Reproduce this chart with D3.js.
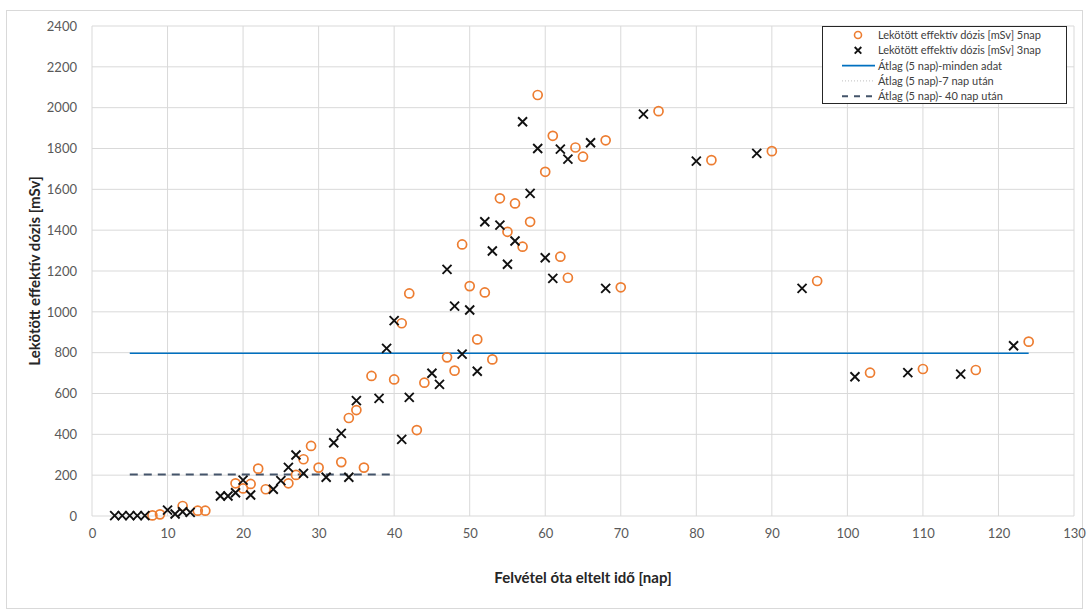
<!DOCTYPE html>
<html>
<head>
<meta charset="utf-8">
<script src="https://cdn.jsdelivr.net/npm/d3@7"></script>
<style>
  body { margin: 0; background: #fff; }
  svg { font-family: Lato, "Liberation Sans", sans-serif; }
</style>
</head>
<body>
<div id="chart-area"></div>
<script>
// 3 napos mérések (x: nap, y: mSv)
var days3 = [3, 4, 5, 6, 7, 10, 11, 12, 13, 17, 18, 19, 20, 21, 24, 25, 26, 27, 28, 31, 32, 33, 34, 35, 38, 39, 40, 41, 42, 45, 46, 47, 48, 49, 50, 51, 52, 53, 54, 55, 56, 57, 58, 59, 60, 61, 62, 63, 66, 68, 73, 80, 88, 94, 101, 108, 115, 122];
var dose3 = [2, 2, 2, 2, 2, 29, 10, 21, 18, 98, 98, 114, 176, 103, 131, 173, 238, 299, 209, 190, 359, 405, 190, 565, 576, 821, 957, 375, 581, 699, 645, 1208, 1028, 793, 1009, 709, 1441, 1298, 1425, 1233, 1347, 1931, 1580, 1800, 1265, 1164, 1797, 1748, 1828, 1115, 1968, 1738, 1776, 1115, 682, 702, 695, 834];

// 5 napos mérések
var days5 = [8, 9, 12, 14, 15, 19, 20, 21, 22, 23, 26, 27, 28, 29, 30, 33, 34, 35, 36, 37, 40, 41, 42, 43, 44, 47, 48, 49, 50, 51, 52, 53, 54, 55, 56, 57, 58, 59, 60, 61, 62, 63, 64, 65, 68, 70, 75, 82, 90, 96, 103, 110, 117, 124];
var dose5 = [3, 8, 49, 26, 26, 160, 135, 157, 232, 131, 160, 201, 278, 343, 237, 264, 480, 519, 237, 686, 669, 944, 1090, 421, 653, 777, 712, 1330, 1126, 865, 1095, 767, 1556, 1392, 1531, 1319, 1441, 2062, 1686, 1862, 1270, 1167, 1805, 1760, 1840, 1120, 1983, 1743, 1787, 1151, 702, 720, 715, 854];

// átlagvonalak
var avgAll = { from: 5, to: 124, value: 797 };
var avg40 = { from: 5, to: 40, value: 203 };

var xTicks = d3.range(0, 131, 10);
var yTicks = d3.range(0, 2401, 200);

var legendLabels = [
    "Lekötött effektív dózis [mSv] 5nap",
    "Lekötött effektív dózis [mSv] 3nap",
    "Átlag (5 nap)-minden adat",
    "Átlag (5 nap)-7 nap után",
    "Átlag (5 nap)- 40 nap után"
];

var W = 1087, H = 611;
var margin = { left: 92, right: 13, top: 26, bottom: 95 };

var svg = d3.select("#chart-area")
    .append("svg")
    .attr("width", W)
    .attr("height", H);

// keret
svg.append("rect")
    .attr("x", 6.5).attr("y", 10.5)
    .attr("width", 1076).attr("height", 598)
    .attr("fill", "none")
    .attr("stroke", "#d9d9d9");

var xScale = d3.scaleLinear()
    .domain([0, 130])
    .range([margin.left, W - margin.right]);

var yScale = d3.scaleLinear()
    .domain([0, 2400])
    .range([H - margin.bottom, margin.top]);

// rács
svg.append("g")
    .selectAll("line")
    .data(xTicks)
    .enter()
    .append("line")
    .attr("x1", function (d) { return xScale(d); })
    .attr("x2", function (d) { return xScale(d); })
    .attr("y1", yScale(0))
    .attr("y2", yScale(2400))
    .attr("stroke", "#d9d9d9")
    .attr("stroke-width", 1);

svg.append("g")
    .selectAll("line")
    .data(yTicks)
    .enter()
    .append("line")
    .attr("x1", xScale(0))
    .attr("x2", xScale(130))
    .attr("y1", function (d) { return yScale(d); })
    .attr("y2", function (d) { return yScale(d); })
    .attr("stroke", "#d9d9d9")
    .attr("stroke-width", 1);

var xAxis = d3.axisBottom(xScale).tickValues(xTicks).tickSize(0).tickPadding(13).tickFormat(d3.format("d"));
var yAxis = d3.axisLeft(yScale).tickValues(yTicks).tickSize(0).tickPadding(15).tickFormat(d3.format("d"));

svg.append("g")
    .attr("transform", "translate(0," + yScale(0) + ")")
    .call(xAxis)
    .call(function (g) { g.select(".domain").remove(); })
    .selectAll("text")
    .attr("font-size", "13px")
    .attr("fill", "#595959")
    .attr("font-family", "Lato, sans-serif");

svg.append("g")
    .attr("transform", "translate(" + xScale(0) + ",0)")
    .call(yAxis)
    .call(function (g) { g.select(".domain").remove(); })
    .selectAll("text")
    .attr("font-size", "13px")
    .attr("fill", "#595959")
    .attr("font-family", "Lato, sans-serif");

// átlagvonalak
svg.append("line")
    .attr("x1", xScale(avgAll.from)).attr("x2", xScale(avgAll.to))
    .attr("y1", yScale(avgAll.value)).attr("y2", yScale(avgAll.value))
    .attr("stroke", "#0070C0")
    .attr("stroke-width", 1.6);

svg.append("line")
    .attr("x1", xScale(avg40.from)).attr("x2", xScale(avg40.to))
    .attr("y1", yScale(avg40.value)).attr("y2", yScale(avg40.value))
    .attr("stroke", "#44546A")
    .attr("stroke-width", 2)
    .attr("stroke-dasharray", "8,6");

// pontok
var pts5 = days5.map(function (d, i) { return { x: d, y: dose5[i] }; });
var pts3 = days3.map(function (d, i) { return { x: d, y: dose3[i] }; });

svg.append("g")
    .selectAll("circle")
    .data(pts5)
    .enter()
    .append("circle")
    .attr("cx", function (d) { return xScale(d.x); })
    .attr("cy", function (d) { return yScale(d.y); })
    .attr("r", 4.5)
    .attr("fill", "none")
    .attr("stroke", "#ED7D31")
    .attr("stroke-width", 1.7);

var cross = function (g, s) {
    g.append("path")
        .attr("d", "M" + (-s) + "," + (-s) + "L" + s + "," + s + "M" + (-s) + "," + s + "L" + s + "," + (-s))
        .attr("stroke", "#111")
        .attr("stroke-width", 1.9)
        .attr("fill", "none");
};

svg.append("g")
    .selectAll("g")
    .data(pts3)
    .enter()
    .append("g")
    .attr("transform", function (d) { return "translate(" + xScale(d.x) + "," + yScale(d.y) + ")"; })
    .each(function () { cross(d3.select(this), 4.5); });

// tengelycímek
svg.append("text")
    .attr("x", (xScale(0) + xScale(130)) / 2)
    .attr("y", 583)
    .attr("text-anchor", "middle")
    .attr("font-size", "15px")
    .attr("font-weight", "bold")
    .attr("fill", "#262626")
    .text("Felvétel óta eltelt idő [nap]");

svg.append("text")
    .attr("transform", "translate(40," + ((yScale(0) + yScale(2400)) / 2) + ") rotate(-90)")
    .attr("text-anchor", "middle")
    .attr("font-size", "15px")
    .attr("font-weight", "bold")
    .attr("fill", "#262626")
    .text("Lekötött effektív dózis [mSv]");

// jelmagyarázat
var legend = svg.append("g").attr("transform", "translate(822,26)");
legend.append("rect")
    .attr("x", 0.5).attr("y", 0.5)
    .attr("width", 244).attr("height", 77)
    .attr("fill", "#fff")
    .attr("stroke", "#262626")
    .attr("stroke-width", 1);

legendLabels.forEach(function (label, i) {
    var y = 9 + i * 15.3;
    var row = legend.append("g").attr("transform", "translate(0," + y + ")");
    if (i === 0) {
        row.append("circle").attr("cx", 36).attr("cy", 0).attr("r", 3.5)
            .attr("fill", "none").attr("stroke", "#ED7D31").attr("stroke-width", 1.6);
    } else if (i === 1) {
        var c = row.append("g").attr("transform", "translate(36,0)");
        cross(c, 3.3);
    } else if (i === 2) {
        row.append("line").attr("x1", 20).attr("x2", 53).attr("y1", 0).attr("y2", 0)
            .attr("stroke", "#0070C0").attr("stroke-width", 1.6);
    } else if (i === 3) {
        row.append("line").attr("x1", 20).attr("x2", 53).attr("y1", 0).attr("y2", 0)
            .attr("stroke", "#bfbfbf").attr("stroke-width", 1).attr("stroke-dasharray", "1,2");
    } else {
        row.append("line").attr("x1", 20).attr("x2", 53).attr("y1", 0).attr("y2", 0)
            .attr("stroke", "#44546A").attr("stroke-width", 2).attr("stroke-dasharray", "6,6");
    }
    row.append("text")
        .attr("x", 56)
        .attr("y", 4)
        .attr("font-size", "11px")
        .attr("fill", "#404040")
        .text(label);
});
</script>
</body>
</html>
